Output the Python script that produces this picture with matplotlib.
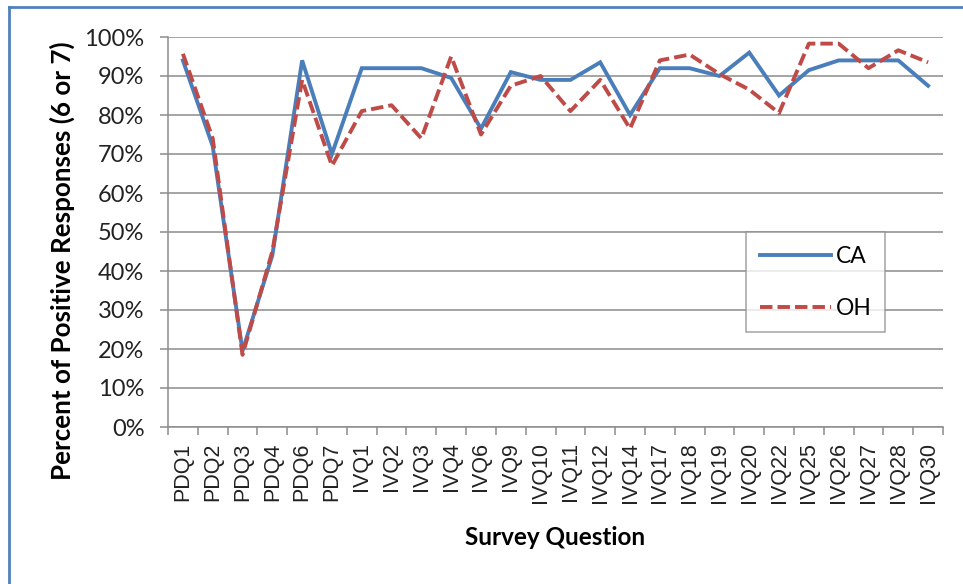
import matplotlib
matplotlib.use("Agg")
import matplotlib.pyplot as plt
from matplotlib.lines import Line2D
from matplotlib.ticker import FixedLocator, PercentFormatter
import numpy as np

# survey questions along the x axis
questions = ["PDQ1", "PDQ2", "PDQ3", "PDQ4", "PDQ6", "PDQ7",
             "IVQ1", "IVQ2", "IVQ3", "IVQ4", "IVQ6", "IVQ9", "IVQ10",
             "IVQ11", "IVQ12", "IVQ14", "IVQ17", "IVQ18", "IVQ19", "IVQ20",
             "IVQ22", "IVQ25", "IVQ26", "IVQ27", "IVQ28", "IVQ30"]

# percent of positive responses (6 or 7)
ca_values = [94, 72, 19.5, 44, 94, 70, 92, 92, 92, 89.5, 76.5, 91, 89,
             89, 93.5, 80, 92, 92, 90, 96, 85, 91.5, 94, 94, 94, 87.5]
oh_values = [95.7, 74, 18.5, 45, 89, 67, 81, 82.5, 74, 95, 75, 87.5, 90,
             81, 89, 76.5, 94, 95.5, 90.5, 86.5, 80.5, 98.3, 98.3, 92, 96.6, 93.5]

CA_COLOR = "#4A7EBB"
OH_COLOR = "#BE4B48"
GRID = "#8C8C8C"

fig = plt.figure(figsize=(9.63, 5.84), dpi=100)
ax = fig.add_axes([168 / 963, 1 - 427 / 584, 775 / 963, 390 / 584])

x = np.arange(len(questions))
ax.plot(x, ca_values, color=CA_COLOR, lw=2.8, label="CA", solid_joinstyle="miter")
ax.plot(x, oh_values, color=OH_COLOR, lw=2.8, ls=(0, (3.2, 1.3)), label="OH")

ax.set_xlim(-0.5, len(questions) - 0.5)
ax.set_ylim(0, 100)
ax.set_yticks(np.arange(0, 101, 10))
ax.yaxis.set_major_formatter(PercentFormatter(decimals=0))
ax.yaxis.grid(True, color=GRID, lw=1.1)
ax.set_axisbelow(True)

ax.set_xticks(x)
ax.set_xticklabels(questions, rotation=90, fontsize=15.5, family="Liberation Sans",
                   color="#222222")
ax.xaxis.set_minor_locator(FixedLocator(np.arange(-0.5, len(questions), 1)))
ax.tick_params(axis="x", which="major", length=0, pad=11)
ax.tick_params(axis="x", which="minor", length=6, color=GRID, width=1.1)
ax.tick_params(axis="y", length=6, color=GRID, width=1.1, labelsize=17, pad=11,
               labelcolor="#222222")
for lbl in ax.get_yticklabels():
    lbl.set_family("Lato")

for s in ["top", "right"]:
    ax.spines[s].set_visible(False)
for s in ["left", "bottom"]:
    ax.spines[s].set_color(GRID)
    ax.spines[s].set_linewidth(1.1)

# y title sits a little below the middle of the plot area, as in the original
fig.text(62 / 963, 1 - 261 / 584, "Percent of Positive Responses (6 or 7)",
         rotation=90, ha="center", va="center", fontsize=18.7, fontweight="bold",
         family="Lato")
ax.set_xlabel("Survey Question", fontsize=17.5, fontweight="bold", family="Lato",
              labelpad=16)

leg = ax.legend(loc="upper left", bbox_to_anchor=(746 / 963, 1 - 232 / 584),
                bbox_transform=fig.transFigure, frameon=True, fancybox=False,
                prop={"family": "Lato", "size": 16.5}, handlelength=3.1,
                labelspacing=1.35, borderpad=0.6, handletextpad=0.2,
                borderaxespad=0)
leg.get_frame().set_edgecolor(GRID)
leg.get_frame().set_linewidth(1.1)

# blue frame along the top and left of the picture
frame_color = "#4F81BD"
fig.add_artist(Line2D([9 / 963, 9 / 963], [0, 1 - 7 / 584], transform=fig.transFigure,
                      color=frame_color, lw=2))
fig.add_artist(Line2D([9 / 963, 1], [1 - 7 / 584, 1 - 7 / 584], transform=fig.transFigure,
                      color=frame_color, lw=2))

fig.savefig("out.png", dpi=100)
